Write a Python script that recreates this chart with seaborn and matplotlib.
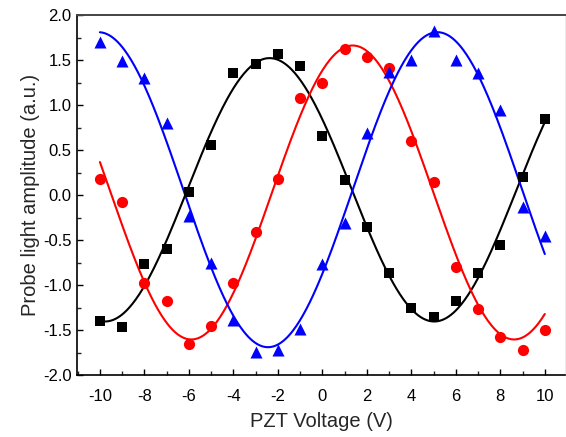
import numpy as np
import pandas as pd
import matplotlib
matplotlib.use("Agg")
import matplotlib.pyplot as plt
from matplotlib.ticker import MultipleLocator
import seaborn as sns

# PZT scan voltages (V)
voltage = [-10, -9, -8, -7, -6, -5, -4, -3, -2, -1, 0, 1, 2, 3, 4, 5, 6, 7, 8, 9, 10]

# Measured probe light amplitudes (a.u.) for the three channels
amp_black = [-1.40, -1.47, -0.77, -0.60, 0.03, 0.56, 1.36, 1.46, 1.57, 1.43, 0.66,
             0.17, -0.35, -0.87, -1.26, -1.35, -1.18, -0.87, -0.55, 0.20, 0.85]
amp_red = [0.18, -0.08, -0.98, -1.18, -1.66, -1.46, -0.98, -0.41, 0.18, 1.08, 1.24,
           1.62, 1.53, 1.41, 0.60, 0.14, -0.80, -1.27, -1.58, -1.72, -1.50]
amp_blue = [1.70, 1.49, 1.30, 0.80, -0.23, -0.75, -1.39, -1.74, -1.72, -1.49, -0.77,
            -0.31, 0.69, 1.37, 1.50, 1.82, 1.50, 1.35, 0.94, -0.13, -0.46]

x_ticks = [-10, -8, -6, -4, -2, 0, 2, 4, 6, 8, 10]
y_ticks = [2.0, 1.5, 1.0, 0.5, 0.0, -0.5, -1.0, -1.5, -2.0]


def sine_fit(x, y):
    """Least-squares fit y = a sin(wx) + b cos(wx) + c, scanning w."""
    x = np.asarray(x, float)
    y = np.asarray(y, float)
    best = None
    for w in np.linspace(0.30, 0.55, 501):
        M = np.column_stack([np.sin(w * x), np.cos(w * x), np.ones_like(x)])
        coef, *_ = np.linalg.lstsq(M, y, rcond=None)
        r = np.sum((M @ coef - y) ** 2)
        if best is None or r < best[0]:
            best = (r, w, coef)
    _, w, (a, b, c) = best
    xf = np.linspace(x.min(), x.max(), 400)
    return xf, a * np.sin(w * xf) + b * np.cos(w * xf) + c


sns.set_theme(style="ticks")
plt.rcParams["font.family"] = ["Liberation Sans", "DejaVu Sans"]
plt.rcParams["axes.unicode_minus"] = False

fig, ax = plt.subplots(figsize=(5.66, 4.37), dpi=100)
fig.subplots_adjust(left=77 / 566, right=565.5 / 566, top=1 - 15 / 437, bottom=1 - 375 / 437)

series = [
    (amp_black, "black", "s", 55),
    (amp_red, "red", "o", 65),
    (amp_blue, "blue", "^", 75),
]
for amp, color, marker, size in series:
    xf, yf = sine_fit(voltage, amp)
    sns.lineplot(x=xf, y=yf, ax=ax, color=color, linewidth=1.5)
    df = pd.DataFrame({"V": voltage, "A": amp})
    sns.scatterplot(data=df, x="V", y="A", ax=ax, color=color, marker=marker,
                    s=size, edgecolor=color, linewidth=0, zorder=3)

ax.set_xlim(-11.03, 10.93)
ax.set_ylim(-2.0, 2.0)
ax.set_xticks(x_ticks)
ax.set_xticklabels([f"{t}" for t in x_ticks])
ax.set_yticks(y_ticks)
ax.set_yticklabels([f"{t:.1f}" for t in y_ticks])
ax.xaxis.set_minor_locator(MultipleLocator(1))
ax.yaxis.set_minor_locator(MultipleLocator(0.25))

ax.tick_params(which="major", direction="in", length=4.5, width=1, labelsize=12,
               colors="black")
ax.tick_params(which="minor", direction="in", length=2.6, width=1)
ax.tick_params(axis="x", which="major", pad=10)
ax.tick_params(axis="y", which="major", pad=4)
ax.tick_params(top=False, right=False, which="both")

for side in ["left", "bottom"]:
    ax.spines[side].set_color("black")
    ax.spines[side].set_linewidth(1.2)
ax.spines["top"].set_color("#444444")
ax.spines["top"].set_linewidth(1.4)
ax.spines["right"].set_color("#999999")
ax.spines["right"].set_linewidth(1.0)
ax.spines["top"].set_visible(True)
ax.spines["right"].set_visible(True)

ax.set_xlabel("PZT Voltage (V)", fontsize=14.5, labelpad=6)
ax.set_ylabel("Probe light amplitude (a.u.)", fontsize=14.5, labelpad=2)

fig.savefig("out.png", dpi=100)
